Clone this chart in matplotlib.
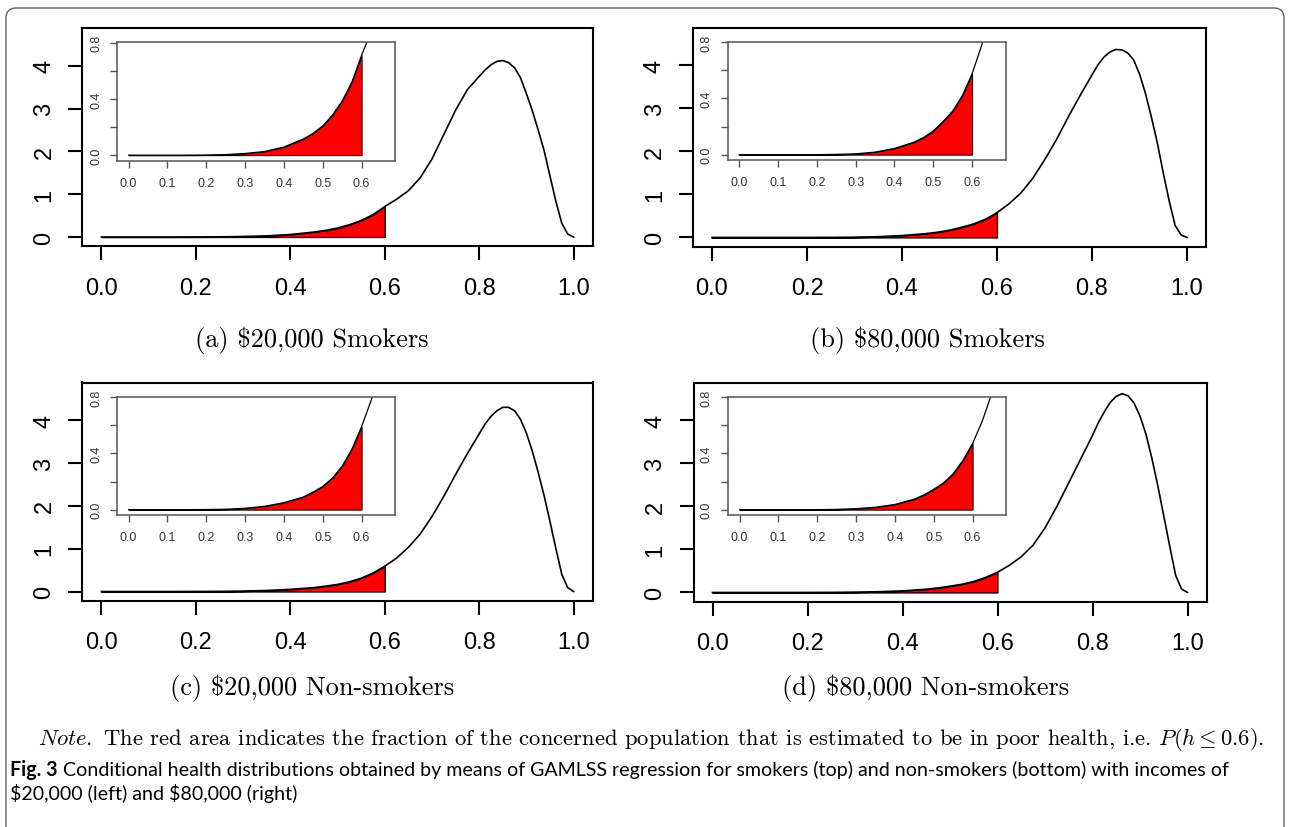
import matplotlib
matplotlib.use("Agg")
import matplotlib.pyplot as plt
from matplotlib.patches import FancyBboxPatch

plt.rcParams['mathtext.fontset'] = 'cm'

# health score grid and the estimated densities
h = [0.0, 0.05, 0.10, 0.15, 0.20, 0.25, 0.30, 0.35, 0.40, 0.45, 0.475, 0.50,
     0.525, 0.55, 0.575, 0.60, 0.625, 0.65, 0.675, 0.70, 0.725, 0.75, 0.775,
     0.80, 0.8125, 0.825, 0.8375, 0.85, 0.8625, 0.875, 0.8875, 0.90, 0.9125,
     0.925, 0.9375, 0.95, 0.9625, 0.975, 0.9875, 1.0]

dens_a = [0, 0, 0, 0, 0.001, 0.004, 0.012, 0.026, 0.058, 0.115, 0.155, 0.208,
          0.285, 0.385, 0.52, 0.71, 0.88, 1.08, 1.38, 1.82, 2.39, 2.96, 3.44,
          3.75, 3.90, 4.02, 4.10, 4.12, 4.07, 3.95, 3.72, 3.35, 2.95,
          2.50, 2.02, 1.42, 0.83, 0.32, 0.07, 0.0]
dens_b = [0, 0, 0, 0, 0, 0.002, 0.006, 0.018, 0.044, 0.088, 0.122, 0.168,
          0.235, 0.31, 0.42, 0.575, 0.78, 1.03, 1.37, 1.80, 2.27, 2.80, 3.30,
          3.78, 4.01, 4.19, 4.31, 4.37, 4.36, 4.29, 4.13, 3.80, 3.35,
          2.80, 2.20, 1.50, 0.85, 0.28, 0.06, 0.0]
dens_c = [0, 0, 0, 0, 0.001, 0.003, 0.010, 0.024, 0.050, 0.090, 0.125, 0.165,
          0.225, 0.31, 0.43, 0.59, 0.78, 1.03, 1.34, 1.75, 2.22, 2.73, 3.22,
          3.68, 3.91, 4.09, 4.22, 4.30, 4.30, 4.22, 4.02, 3.70, 3.28,
          2.78, 2.24, 1.63, 1.00, 0.40, 0.09, 0.0]
dens_d = [0, 0, 0, 0, 0, 0.002, 0.007, 0.017, 0.037, 0.075, 0.105, 0.145,
          0.19, 0.255, 0.35, 0.47, 0.63, 0.83, 1.10, 1.50, 2.00, 2.55, 3.10,
          3.65, 3.95, 4.20, 4.42, 4.56, 4.62, 4.57, 4.40, 4.10, 3.68,
          3.12, 2.48, 1.78, 1.08, 0.40, 0.08, 0.0]

captions = ["(a) \\$20,000 Smokers", "(b) \\$80,000 Smokers",
            "(c) \\$20,000 Non-smokers", "(d) \\$80,000 Non-smokers"]

cutoff = 0.6
main_xticks = [0.0, 0.2, 0.4, 0.6, 0.8, 1.0]
main_yticks = [0, 1, 2, 3, 4]
inset_xticks = [0.0, 0.1, 0.2, 0.3, 0.4, 0.5, 0.6]
inset_yticks = [0.0, 0.2, 0.4, 0.6, 0.8]
inset_ylabels = ["0.0", "", "0.4", "", "0.8"]

note = (r"$\mathit{Note.}$ The red area indicates the fraction of the concerned "
        r"population that is estimated to be in poor health, i.e. $P(h \leq 0.6)$.")
fig_label = "Fig. 3"
fig_line1 = ("Conditional health distributions obtained by means of GAMLSS regression "
             "for smokers (top) and non-smokers (bottom) with incomes of")
fig_line2 = "\\$20,000 (left) and \\$80,000 (right)"

W, H = 1289, 828
fig = plt.figure(figsize=(W / 100, H / 100), dpi=100)

# full-figure axes in pixel units for the frame and the caption texts
bg = fig.add_axes([0, 0, 1, 1])
bg.set_xlim(0, W)
bg.set_ylim(H, 0)
bg.axis('off')
bg.add_patch(FancyBboxPatch((6, 9), 1278, 900, boxstyle="round,pad=0,rounding_size=10",
                            fc='none', ec='#606060', lw=1.0))


def px_axes(left, top, right, bottom):
    return fig.add_axes([left / W, 1 - bottom / H, (right - left) / W, (bottom - top) / H])


# left, top, right, bottom of each main box, then caption centre
panels = [(82.5, 29, 592.5, 247, 312, 340),
          (693, 28.5, 1206, 247.5, 927, 340),
          (82.5, 383.5, 592.5, 601.5, 312, 688),
          (693.5, 383.5, 1206.5, 602.5, 926, 688)]

for (l, t, r, b, cx, cy), dens, cap in zip(panels, [dens_a, dens_b, dens_c, dens_d], captions):
    n_fill = len([x for x in h if x <= cutoff])

    ax = px_axes(l, t, r, b)
    ax.fill_between(h[:n_fill], dens[:n_fill], 0, facecolor='red', edgecolor='black', lw=0.9)
    ax.plot(h, dens, color='black', lw=1.2)
    ax.set_xlim(-0.04, 1.04)
    ax.set_ylim(-0.21, 4.88)
    ax.set_xticks(main_xticks)
    ax.set_xticklabels([f"{v:.1f}" for v in main_xticks])
    ax.set_yticks(main_yticks)
    ax.set_yticklabels([str(v) for v in main_yticks])
    for s in ax.spines.values():
        s.set_linewidth(1.5)
    ax.tick_params(axis='both', direction='out', length=10, width=1.5, labelsize=17)
    ax.tick_params(axis='x', pad=12)
    ax.tick_params(axis='y', pad=9.5, labelrotation=90)
    for lab in ax.get_xticklabels() + ax.get_yticklabels():
        lab.set_fontfamily('Liberation Sans')
    for lab in ax.get_yticklabels():
        lab.set_va('center')

    ins = px_axes(l + 34.5, t + 14, l + 312.5, t + 132.5)
    ins.fill_between(h[:n_fill], dens[:n_fill], 0, facecolor='red', edgecolor='black', lw=0.7)
    ins.plot(h, dens, color='black', lw=0.9)
    ins.set_xlim(-0.03, 0.686)
    ins.set_ylim(-0.038, 0.804)
    ins.set_xticks(inset_xticks)
    ins.set_xticklabels([f"{v:.1f}" for v in inset_xticks])
    ins.set_yticks(inset_yticks)
    ins.set_yticklabels(inset_ylabels)
    for s in ins.spines.values():
        s.set_linewidth(1.1)
        s.set_color('#555555')
    ins.tick_params(axis='both', direction='out', length=5.3, width=1.0, color='#555555',
                    labelsize=9, labelcolor='#333333')
    ins.tick_params(axis='x', pad=6.5)
    ins.tick_params(axis='y', pad=5.5, labelrotation=90)
    for lab in ins.get_xticklabels() + ins.get_yticklabels():
        lab.set_fontfamily('Liberation Sans')
    for lab in ins.get_yticklabels():
        lab.set_va('center')

    bg.text(cx, cy, cap, ha='center', va='center', fontsize=19, fontfamily='cmr10')

renderer = fig.canvas.get_renderer()

# note line, sized to run from x=38 to x=1265 like the printed one
t_note = bg.text(38, 745, note, ha='left', va='baseline', fontsize=14, fontfamily='cmr10')
t_note.set_fontsize(14 * 1227 / t_note.get_window_extent(renderer).width)

# figure caption: bold label followed by regular text, sized to the printed width
size = 14
t_lab = bg.text(10, 776, fig_label, fontfamily='Lato', fontweight='bold', fontsize=size, va='baseline')
t_l1 = bg.text(10, 776, " " + fig_line1, fontfamily='Lato', fontsize=size, va='baseline')
total = t_lab.get_window_extent(renderer).width + t_l1.get_window_extent(renderer).width
size = size * 1220 / total
t_lab.set_fontsize(size)
t_l1.set_fontsize(size)
t_l1.set_x(10 + t_lab.get_window_extent(renderer).width)
bg.text(10, 800, fig_line2, fontfamily='Lato', fontsize=size, va='baseline')

fig.savefig("out.png", dpi=100)
